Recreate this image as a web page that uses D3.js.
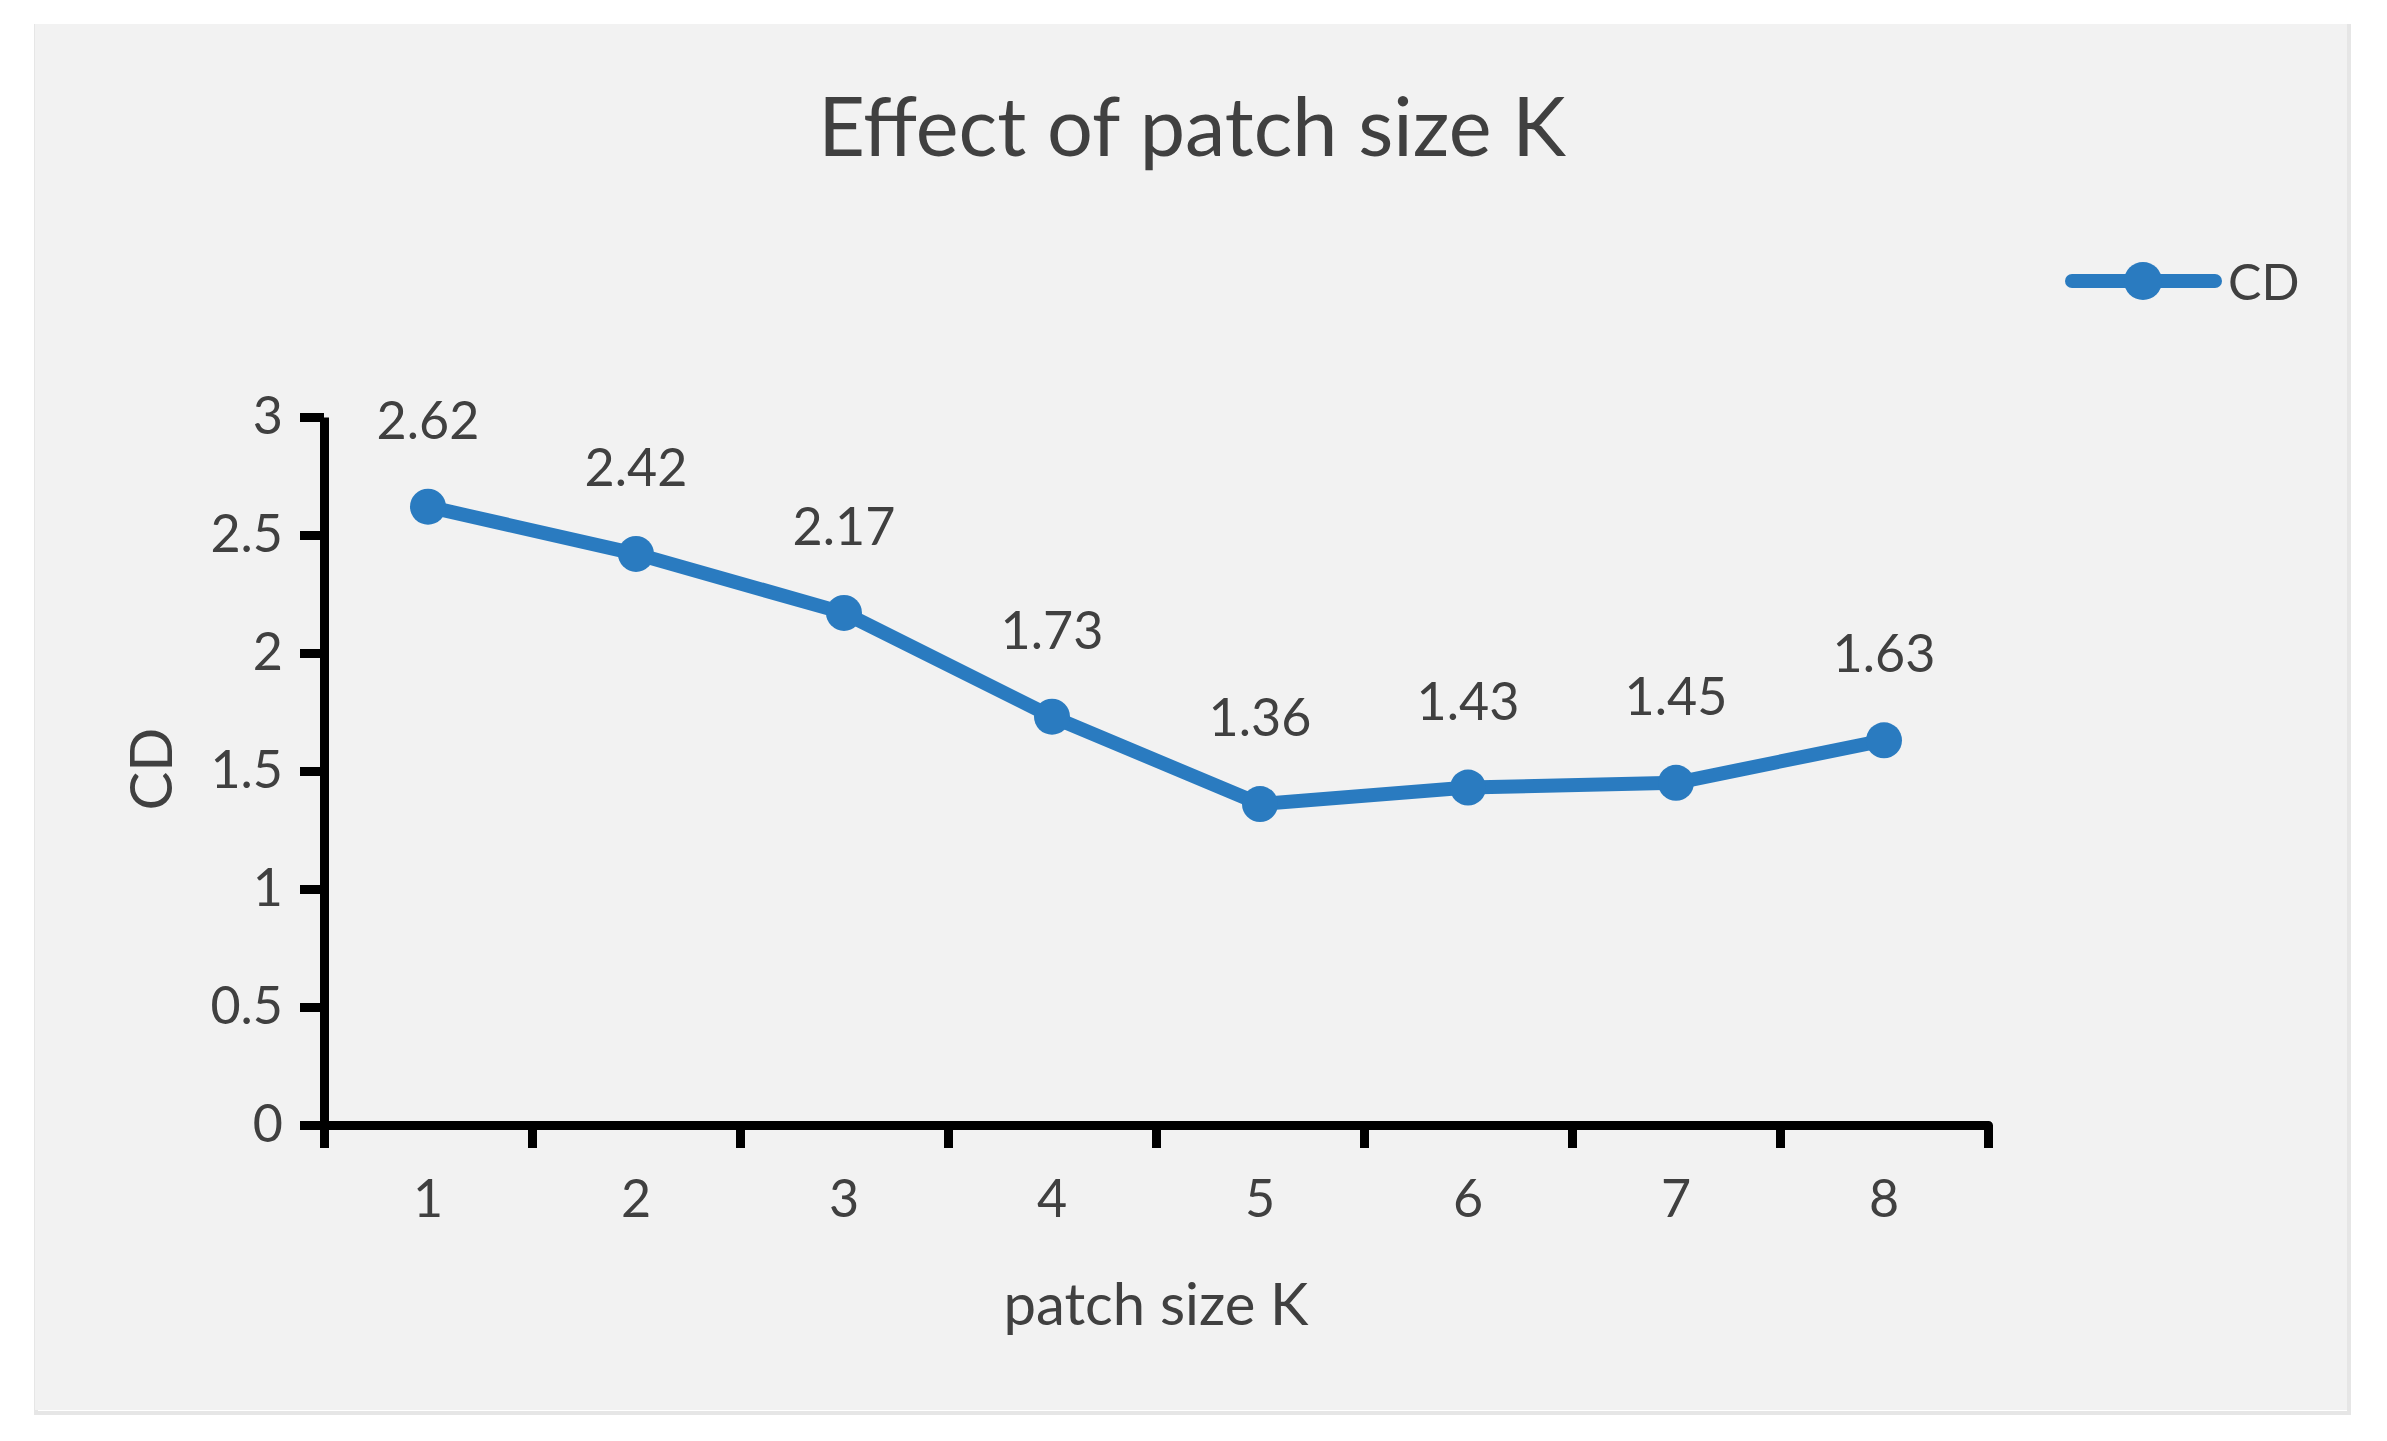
<!DOCTYPE html>
<html>
<head>
<meta charset="utf-8">
<script src="https://cdn.jsdelivr.net/npm/d3@7"></script>
<style>
  html, body { margin: 0; padding: 0; background: #ffffff; }
  svg { display: block; }
  text { font-family: Lato, "Open Sans", sans-serif; }
</style>
</head>
<body>
<script>
const categories = ["1", "2", "3", "4", "5", "6", "7", "8"];
const cdValues = [2.62, 2.42, 2.17, 1.73, 1.36, 1.43, 1.45, 1.63];
const yTicks = [0, 0.5, 1, 1.5, 2, 2.5, 3];
const seriesName = "CD";
const titleText = "Effect of patch size K";
const xTitle = "patch size K";
const yTitle = "CD";

const W = 2387, H = 1441;
const plot = { left: 324, right: 1988, top: 417, bottom: 1125 };
const blue = "#2a7bc0";
const textColor = "#404040";

const svg = d3.select("body").append("svg").attr("width", W).attr("height", H);

// panel
svg.append("rect").attr("x", 36).attr("y", 26).attr("width", 2313).attr("height", 1387)
  .attr("fill", "none").attr("stroke", "#e6e6e6").attr("stroke-width", 4);
svg.append("rect").attr("x", 35).attr("y", 24).attr("width", 2312).attr("height", 1386).attr("fill", "#f2f2f2");

const x = d3.scaleBand().domain(categories).range([plot.left, plot.right]).paddingInner(0).paddingOuter(0);
const xEdges = d3.scaleLinear().domain([0, categories.length]).range([plot.left, plot.right]);
const y = d3.scaleLinear().domain([0, 3]).range([plot.bottom, plot.top]);

// title
svg.append("text").attr("x", 1192).attr("y", 156).attr("text-anchor", "middle")
  .attr("font-size", 81).attr("fill", textColor).text(titleText);

// y axis
const yAxis = svg.append("g").attr("transform", `translate(${plot.left},0)`)
  .call(d3.axisLeft(y).tickValues(yTicks).tickFormat(d3.format("~g")).tickSizeInner(24).tickSizeOuter(0).tickPadding(17));
yAxis.select(".domain").attr("stroke", "#000").attr("stroke-width", 9);
yAxis.selectAll(".tick line").attr("stroke", "#000").attr("stroke-width", 9);
yAxis.selectAll(".tick text").attr("font-size", 52).attr("fill", textColor).attr("font-family", "Lato, sans-serif");

// x axis edge ticks
const xAxisEdges = svg.append("g").attr("transform", `translate(0,${plot.bottom})`)
  .call(d3.axisBottom(xEdges).ticks(categories.length).tickFormat("").tickSizeInner(23).tickSizeOuter(23));
xAxisEdges.select(".domain").attr("stroke", "#000").attr("stroke-width", 9).attr("stroke-linejoin", "round").attr("fill", "none");
xAxisEdges.selectAll(".tick line").attr("stroke", "#000").attr("stroke-width", 9);

// x axis labels
const xAxisLabels = svg.append("g").attr("transform", `translate(0,${plot.bottom})`)
  .call(d3.axisBottom(x).tickSize(0).tickPadding(55));
xAxisLabels.select(".domain").remove();
xAxisLabels.selectAll(".tick text").attr("font-size", 52).attr("fill", textColor).attr("font-family", "Lato, sans-serif");

// axis titles
svg.append("text").attr("x", (plot.left + plot.right) / 2).attr("y", 1325).attr("text-anchor", "middle")
  .attr("font-size", 58).attr("fill", textColor).text(xTitle);
svg.append("text").attr("transform", "translate(172,769) rotate(-90)").attr("text-anchor", "middle")
  .attr("font-size", 58).attr("fill", textColor).text(yTitle);

// line
const data = categories.map((c, i) => ({ c, v: cdValues[i] }));
const cx = d => x(d.c) + x.bandwidth() / 2;
svg.append("path").datum(data)
  .attr("d", d3.line().x(cx).y(d => y(d.v)))
  .attr("fill", "none").attr("stroke", blue).attr("stroke-width", 14).attr("stroke-linejoin", "round").attr("stroke-linecap", "round");
svg.selectAll("circle.pt").data(data).join("circle").attr("class", "pt")
  .attr("cx", cx).attr("cy", d => y(d.v)).attr("r", 18).attr("fill", blue);

// data labels
svg.selectAll("text.lbl").data(data).join("text").attr("class", "lbl")
  .attr("x", cx).attr("y", d => y(d.v) - 68).attr("text-anchor", "middle")
  .attr("font-size", 52).attr("fill", textColor).text(d => d3.format(".2f")(d.v));

// legend
const lg = svg.append("g");
lg.append("line").attr("x1", 2072).attr("x2", 2215).attr("y1", 281).attr("y2", 281)
  .attr("stroke", blue).attr("stroke-width", 14).attr("stroke-linecap", "round");
lg.append("circle").attr("cx", 2143).attr("cy", 281).attr("r", 19).attr("fill", blue);
lg.append("text").attr("x", 2228).attr("y", 300).attr("font-size", 50).attr("fill", textColor).text(seriesName);
</script>
</body>
</html>
